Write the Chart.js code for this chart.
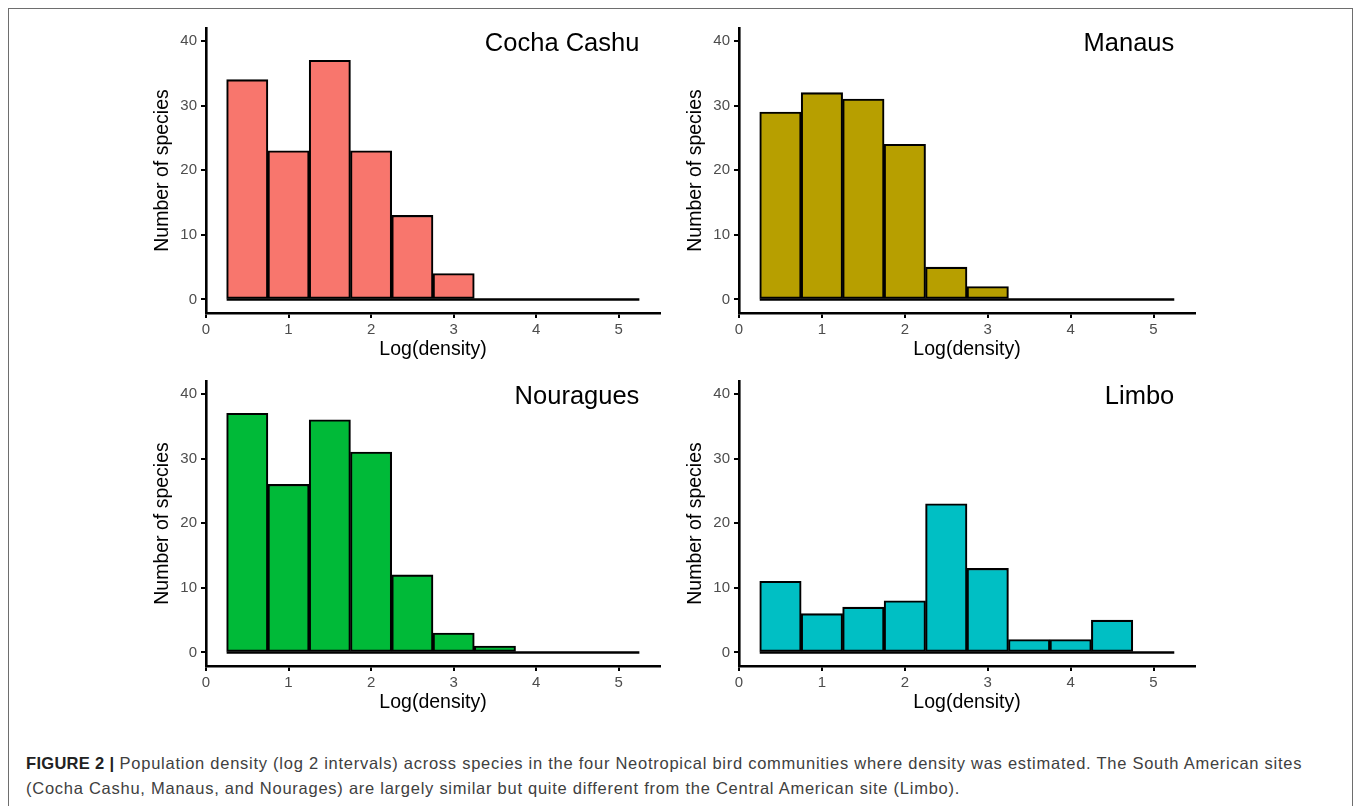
<!DOCTYPE html>
<html>
<head>
<meta charset="utf-8">
<script src="https://cdn.jsdelivr.net/npm/chart.js@4.4.1/dist/chart.umd.min.js"></script>
<style>
    html, body { margin: 0; padding: 0; background: #fff; width: 1358px; height: 806px; overflow: hidden; }
    .frame { position: absolute; left: 8px; top: 8px; width: 1345px; height: 820px; border: 1px solid #6e6e6e; box-sizing: border-box; }
    .panel { position: absolute; }
    .caption { position: absolute; left: 26px; top: 751px; width: 1320px; font-family: "Liberation Sans", Arial, sans-serif; font-size: 16.5px; letter-spacing: 0.74px; line-height: 25px; color: #404040; white-space: nowrap; }
    .caption b { color: #222; letter-spacing: 0.3px; }
</style>
</head>
<body>
<div class="frame"></div>
<canvas class="panel" id="panel-0"></canvas>
<canvas class="panel" id="panel-1"></canvas>
<canvas class="panel" id="panel-2"></canvas>
<canvas class="panel" id="panel-3"></canvas>
<div class="caption">
    <b>FIGURE 2 |</b> Population density (log 2 intervals) across species in the four Neotropical bird communities where density was estimated. The South American sites<br>
    (Cocha Cashu, Manaus, and Nourages) are largely similar but quite different from the Central American site (Limbo).
</div>

<script>
// Bins du histogramme (centres, largeur 0.5)
const binCenters = [0.5, 1.0, 1.5, 2.0, 2.5, 3.0, 3.5, 4.0, 4.5, 5.0];
const binWidth = 0.5;

// Nombre d'espèces par bin, un tableau par site
const cochaCashu = [34, 23, 37, 23, 13, 4, 0, 0, 0, 0];
const manaus     = [29, 32, 31, 24, 5, 2, 0, 0, 0, 0];
const nouragues  = [37, 26, 36, 31, 12, 3, 1, 0, 0, 0];
const limbo      = [11, 6, 7, 8, 23, 13, 2, 2, 5, 0];

const siteNames = ['Cocha Cashu', 'Manaus', 'Nouragues', 'Limbo'];
const siteCounts = [cochaCashu, manaus, nouragues, limbo];
const siteColors = ['#F8766D', '#B79F00', '#00BA38', '#00BFC4'];

// Graduations
const xTicks = [0, 1, 2, 3, 4, 5];
const yTicks = [0, 10, 20, 30, 40];
const xLabel = 'Log(density)';
const yLabel = 'Number of species';

// Zone de tracé de chaque panneau (pixels de la page)
const panelAreas = [
    { left: 206, top: 27, w: 454, h: 286 },
    { left: 739, top: 27, w: 456, h: 286 },
    { left: 206, top: 380, w: 454, h: 286 },
    { left: 739, top: 380, w: 456, h: 286 }
];
const AXIS_W = 76, PAD_TOP = 12, PAD_RIGHT = 15, AXIS_H = 50;

// Nom du site dans le coin haut droit, placé via les échelles
const siteLabelPlugin = {
    id: 'siteLabel',
    afterDatasetsDraw(chart, args, opts) {
        const ctx = chart.ctx;
        const x = chart.scales.x.getPixelForValue(opts.xValue);
        const y = chart.scales.y.getPixelForValue(opts.yValue);
        ctx.save();
        ctx.font = '25.5px "Liberation Sans", Arial, sans-serif';
        ctx.fillStyle = '#000';
        ctx.textAlign = 'right';
        ctx.textBaseline = 'alphabetic';
        ctx.fillText(opts.text, x, y + 10);
        ctx.restore();
    }
};

function renderPanel(i) {
    const area = panelAreas[i];
    const canvas = document.getElementById('panel-' + i);
    const cw = area.w + AXIS_W + PAD_RIGHT;
    const ch = area.h + PAD_TOP + AXIS_H;
    canvas.width = cw;
    canvas.height = ch;
    canvas.style.width = cw + 'px';
    canvas.style.height = ch + 'px';
    canvas.style.left = (area.left - AXIS_W) + 'px';
    canvas.style.top = (area.top - PAD_TOP) + 'px';

    const counts = siteCounts[i];
    const bars = binCenters.map((c, k) => ({ x: c, y: counts[k] }));
    const firstEdge = binCenters[0] - binWidth / 2;
    const lastEdge = binCenters[binCenters.length - 1] + binWidth / 2;
    const baseline = [{ x: firstEdge, y: 0 }, { x: lastEdge, y: 0 }];

    const tickFont = { family: '"Liberation Sans", Arial, sans-serif', size: 15 };
    const titleFont = { family: '"Liberation Sans", Arial, sans-serif', size: 19.5 };

    new Chart(canvas, {
        type: 'bar',
        data: {
            datasets: [
                {
                    type: 'bar',
                    data: bars,
                    backgroundColor: siteColors[i],
                    borderColor: '#000',
                    borderWidth: 2.1,
                    borderSkipped: false,
                    barPercentage: 1,
                    categoryPercentage: 1,
                    order: 0
                },
                {
                    type: 'line',
                    data: baseline,
                    borderColor: '#000',
                    borderWidth: 2.4,
                    pointRadius: 0,
                    order: 1
                }
            ]
        },
        plugins: [siteLabelPlugin],
        options: {
            responsive: false,
            animation: false,
            layout: { padding: { top: PAD_TOP, right: PAD_RIGHT, left: 0, bottom: 0 } },
            plugins: {
                legend: { display: false },
                tooltip: { enabled: false },
                siteLabel: { text: siteNames[i], xValue: lastEdge, yValue: 40 }
            },
            scales: {
                x: {
                    type: 'linear',
                    min: 0,
                    max: 5.5,
                    offset: false,
                    afterBuildTicks: s => { s.ticks = xTicks.map(v => ({ value: v })); },
                    afterFit: s => { s.height = AXIS_H; },
                    grid: { offset: false, drawOnChartArea: false, drawTicks: true, tickLength: 5, color: '#000', lineWidth: 2 },
                    border: { display: true, color: '#000', width: 2.6 },
                    ticks: { color: '#4d4d4d', font: tickFont, padding: 3, maxRotation: 0 },
                    title: { display: true, text: xLabel, color: '#000', font: titleFont, padding: { top: 0, bottom: 2 } }
                },
                y: {
                    min: -2.1,
                    max: 42,
                    afterBuildTicks: s => { s.ticks = yTicks.map(v => ({ value: v })); },
                    afterFit: s => { s.width = AXIS_W; },
                    grid: { drawOnChartArea: false, drawTicks: true, tickLength: 5, color: '#000', lineWidth: 2 },
                    border: { display: true, color: '#000', width: 2.6 },
                    ticks: { color: '#4d4d4d', font: tickFont, padding: 4 },
                    title: { display: true, text: yLabel, color: '#000', font: titleFont, padding: { top: 21, bottom: 0 } }
                }
            }
        }
    });
}

siteNames.forEach((name, i) => renderPanel(i));
</script>
</body>
</html>
